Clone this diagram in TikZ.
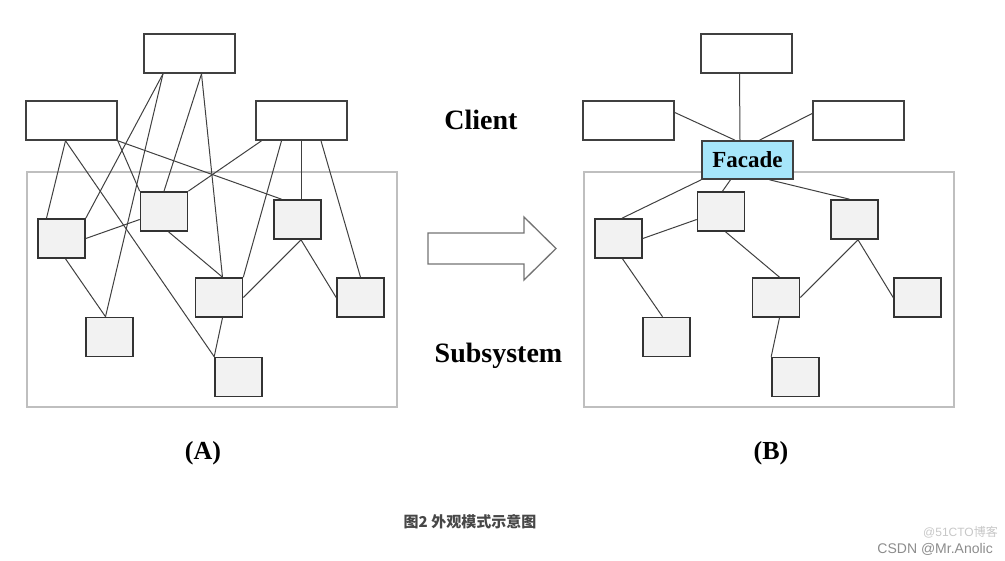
\documentclass[tikz,border=0pt]{standalone}
\usepackage{fontspec}
\setmainfont{Liberation Serif}
\newfontfamily\cjk{Noto Sans CJK SC}
\newfontfamily\wmfont{Liberation Sans}
\definecolor{facadeblue}{RGB}{166,230,250}

\begin{document}
\begin{tikzpicture}[x=1pt,y=-1pt,
    client/.style={draw=black!75, line width=1.6pt, fill=white, minimum width=91pt, minimum height=39pt, inner sep=0pt},
    sub/.style={draw=black!80, line width=1.6pt, fill=black!5, minimum width=47pt, minimum height=39pt, inner sep=0pt},
    frame/.style={draw=black!25, line width=1.4pt},
    link/.style={black!75, line width=1pt},
    lbl/.style={font=\bfseries\fontsize{28}{32}\selectfont, anchor=base}]
    \useasboundingbox (0,0) rectangle (1005,561);

    % the two panels share the same layout
    \foreach \dx/\p in {0/a,557/b} {
        \draw [frame] (27+\dx,172) rectangle (397+\dx,407);
        \node [client] (\p-t) at (189.5+\dx,53.5) {};
        \node [client] (\p-l) at (71.5+\dx,120.5) {};
        \node [client] (\p-r) at (301.5+\dx,120.5) {};
        \node [sub] (\p-s1) at (61.5+\dx,238.5) {};
        \node [sub] (\p-s2) at (164+\dx,211.5) {};
        \node [sub] (\p-s3) at (297.5+\dx,219.5) {};
        \node [sub] (\p-s4) at (219+\dx,297.5) {};
        \node [sub] (\p-s5) at (360.5+\dx,297.5) {};
        \node [sub] (\p-s6) at (109.5+\dx,337) {};
        \node [sub] (\p-s7) at (238.5+\dx,377) {};
    }
    \node [draw=black!75, line width=1.6pt, fill=facadeblue, minimum width=91pt, minimum height=38pt, inner sep=0pt,
        font=\bfseries\fontsize{23}{25}\selectfont] (b-f) at (747.5,160) {Facade};

    % links inside each subsystem
    \foreach \p in {a,b} {
        \draw [link] (\p-s1.east) -- ([yshift=-8pt]\p-s2.west);
        \draw [link] ([xshift=4pt]\p-s1.south) -- ([xshift=-4pt]\p-s6.north);
        \draw [link] ([xshift=4.5pt]\p-s2.south) -- ([xshift=3.5pt]\p-s4.north);
        \draw [link] ([xshift=3.5pt]\p-s3.south) -- (\p-s4.east);
        \draw [link] ([xshift=3.5pt]\p-s3.south) -- (\p-s5.west);
        \draw [link] ([xshift=3.5pt]\p-s4.south) -- (\p-s7.north west);
    }

    % (A) clients reach into the subsystem directly
    \draw [link] ([xshift=-26.5pt]a-t.south) -- (a-s1.north east);
    \draw [link] ([xshift=-26.5pt]a-t.south) -- ([xshift=-4pt]a-s6.north);
    \draw [link] ([xshift=12pt]a-t.south) -- (a-s2.north);
    \draw [link] ([xshift=12pt]a-t.south) -- ([xshift=3.5pt]a-s4.north);
    \draw [link] ([xshift=-6pt]a-l.south) -- ([xshift=-15pt]a-s1.north);
    \draw [link] ([xshift=-6pt]a-l.south) -- (a-s7.north west);
    \draw [link] (a-l.south east) -- (a-s2.north west);
    \draw [link] (a-l.south east) -- ([xshift=-16pt]a-s3.north);
    \draw [link] ([xshift=-40pt]a-r.south) -- (a-s2.north east);
    \draw [link] ([xshift=-20pt]a-r.south) -- (a-s4.north east);
    \draw [link] (a-r.south) -- (a-r.south |- a-s3.north);
    \draw [link] ([xshift=19.5pt]a-r.south) -- (a-s5.north);

    % (B) everything goes through the facade
    \draw [link] ([xshift=-7pt]b-t.south) -- ([xshift=-7.5pt]b-f.north);
    \draw [link] ([yshift=8pt]b-l.east) -- ([xshift=-12.5pt]b-f.north);
    \draw [link] ([yshift=7pt]b-r.west) -- ([xshift=12pt]b-f.north);
    \draw [link] (b-f.south west) -- ([xshift=3.5pt]b-s1.north);
    \draw [link] ([xshift=-17pt]b-f.south) -- ([xshift=1.5pt]b-s2.north);
    \draw [link] ([xshift=22pt]b-f.south) -- ([xshift=-5pt]b-s3.north);

    % hollow arrow
    \draw [black!55, line width=1.3pt, line join=miter]
        (428,233) -- (524,233) -- (524,217) -- (556,248.5) -- (524,280) -- (524,264) -- (428,264) -- cycle;

    \node [lbl] (client) at (481,130) {Client};
    \node [lbl] (subsys) at (498.5,363) {Subsystem};
    \node [lbl, font=\bfseries\fontsize{26}{30}\selectfont] (capa) at (203,460) {(A)};
    \node [lbl, font=\bfseries\fontsize{26}{30}\selectfont] (capb) at (771,460) {(B)};
    \node [anchor=base, text=black!72, font=\cjk\bfseries\fontsize{15}{18}\selectfont] (title) at (470,527) {图2 外观模式示意图};
    \node [anchor=base east, text=black!22, font=\wmfont\fontsize{12}{14}\selectfont, inner sep=0pt] (wm1) at (998,536) {@51CTO{\cjk 博客}};
    \node [anchor=base east, text=black!45, font=\wmfont\fontsize{14}{16}\selectfont, inner sep=0pt] (wm2) at (993,553) {CSDN @Mr.Anolic};
\end{tikzpicture}
\end{document}
